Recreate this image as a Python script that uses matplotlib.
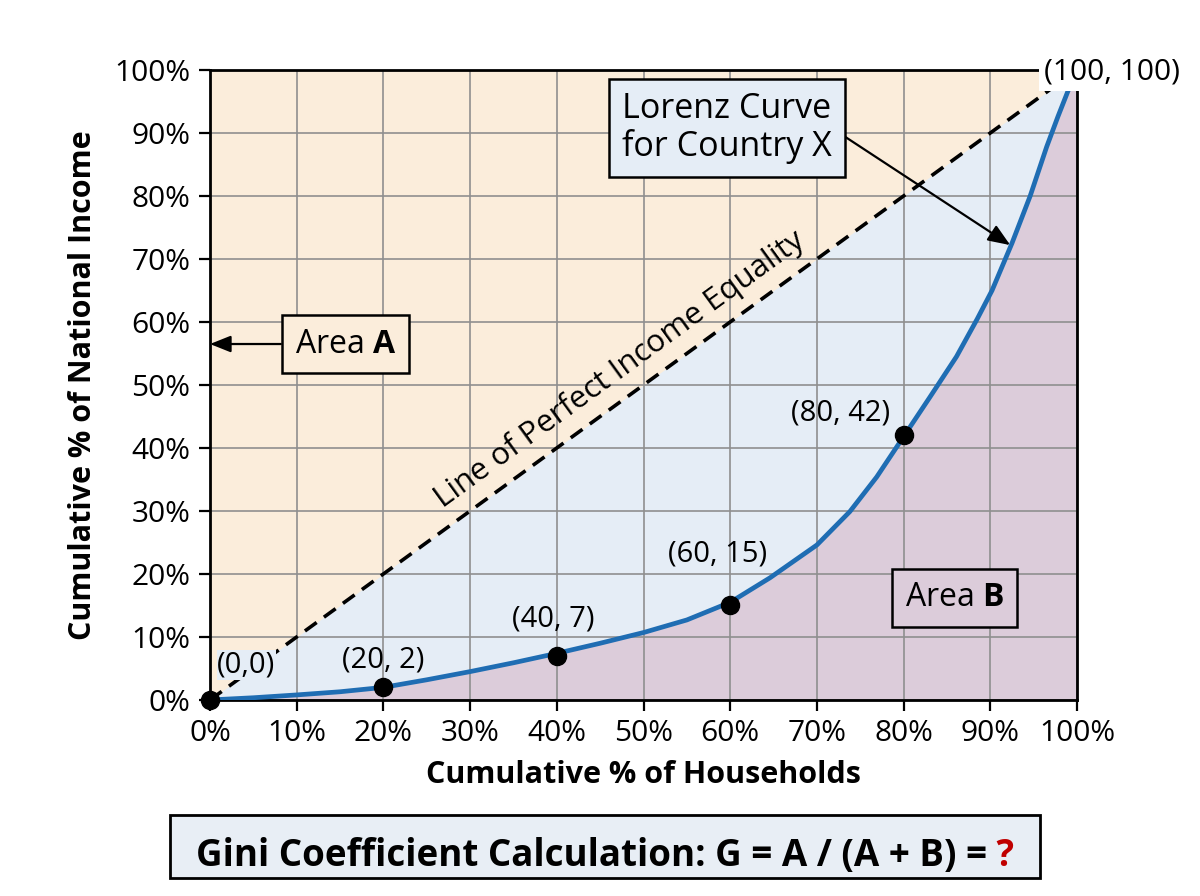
import numpy as np
import matplotlib
import matplotlib.pyplot as plt
from matplotlib.patches import Rectangle

matplotlib.use('Agg')

plt.rcParams['font.family'] = ['Open Sans', 'DejaVu Sans']
plt.rcParams['mathtext.fontset'] = 'custom'
plt.rcParams['mathtext.rm'] = 'Open Sans'
plt.rcParams['mathtext.bf'] = 'Open Sans:bold'

# data
lorenz_x = [0, 5, 10, 15, 20, 25, 30, 35, 40, 45, 50, 55, 60, 64.6, 70, 73.8, 76.9, 80,
            83, 86.1, 88.5, 90.2, 92.5, 94.6, 96.5, 97.8, 99.2, 100]
lorenz_y = [0, 0.35, 0.8, 1.3, 2, 3.2, 4.5, 5.9, 7.4, 9.0, 10.7, 12.7, 15.5, 19.4, 24.6, 29.9, 35.4, 41.8,
            48, 54.5, 60.5, 65, 72.5, 80, 87.8, 92.6, 97.5, 100]
point_x = [0, 20, 40, 60, 80]
point_y = [0, 2, 7, 15, 42]
point_labels = ['(0,0)', '(20, 2)', '(40, 7)', '(60, 15)', '(80, 42)']
label_x = [4.2, 20, 39.6, 58.6, 72.7]
label_y = [5.6, 6.4, 12.8, 23.2, 45.6]
ticks = list(range(0, 101, 10))
tick_labels = [str(t) + '%' for t in ticks]

peach = '#FBEDDB'
blue = '#E5EDF6'
mauve = '#DCCCDA'
line_blue = '#1F6DB3'

fig = plt.figure(figsize=(12, 8.96), dpi=100)
ax = fig.add_axes([0.175, 0.2188, 0.7225, 0.7031])
ax.set_facecolor(peach)

lx = np.array(lorenz_x)
ly = np.array(lorenz_y)
ax.fill_between(lx, ly, lx, color=blue, lw=0, zorder=0.5)
ax.fill_between(lx, 0, ly, color=mauve, lw=0, zorder=0.5)

ax.set_xlim(0, 100)
ax.set_ylim(0, 100)
ax.set_xticks(ticks)
ax.set_yticks(ticks)
ax.set_xticklabels(tick_labels, fontsize=21.5)
ax.set_yticklabels(tick_labels, fontsize=21.5)
ax.tick_params(direction='out', length=8, width=1.6, pad=6)
ax.grid(True, color='#8f8f8f', lw=1.2, zorder=0.8)
ax.set_axisbelow(True)
for s in ax.spines.values():
    s.set_linewidth(2)

ax.plot([0, 100], [0, 100], color='black', lw=2.6, ls=(0, (4, 2.5)), zorder=2)
ax.plot(lx, ly, color=line_blue, lw=3.4, zorder=3, solid_capstyle='round', solid_joinstyle='round')
ax.plot(point_x, point_y, 'o', color='black', ms=13, zorder=5, clip_on=False)

for t, x, y in zip(point_labels, label_x, label_y):
    kw = {}
    if t == '(0,0)':
        kw['bbox'] = dict(boxstyle='square,pad=0.02', fc=blue, ec='none')
    ax.text(x, y, t, fontsize=21, ha='center', va='center', zorder=6, **kw)

ax.text(104, 99.7, '(100, 100)', fontsize=21.5, ha='center', va='center', zorder=6,
        bbox=dict(boxstyle='square,pad=0.15', fc='white', ec='none'))

ax.text(47.3, 52.4, 'Line of Perfect Income Equality', fontsize=22.5, rotation=45,
        transform_rotates_text=True, rotation_mode='anchor', ha='center', va='center', zorder=6)

arrow_style = '-|>,head_length=0.55,head_width=0.22'

ax.annotate('Area $\\mathbf{A}$', xy=(0, 56.5), xytext=(15.6, 56.5), fontsize=23,
            ha='center', va='center', zorder=6,
            bbox=dict(boxstyle='square,pad=0.4', fc=peach, ec='black', lw=1.8),
            arrowprops=dict(arrowstyle=arrow_style, color='black',
                            lw=1.6, relpos=(0, 0.5), shrinkA=0, shrinkB=0))

ax.text(85.9, 16.2, 'Area $\\mathbf{B}$', fontsize=23, ha='center', va='center', zorder=6,
        bbox=dict(boxstyle='square,pad=0.4', fc=mauve, ec='black', lw=1.8))

ax.annotate('Lorenz Curve\nfor Country X', xy=(92.3, 72.2), xytext=(59.6, 90.8), fontsize=24.5,
            ha='center', va='center', zorder=6, linespacing=1.12,
            bbox=dict(boxstyle='square,pad=0.38', fc=blue, ec='black', lw=1.8),
            arrowprops=dict(arrowstyle=arrow_style, color='black',
                            lw=1.6, relpos=(1, 0.5), shrinkA=0, shrinkB=0))

ax.set_xlabel('Cumulative % of Households', fontsize=22, fontweight='bold', labelpad=8)
ax.set_ylabel('Cumulative % of National Income', fontsize=22, fontweight='bold', labelpad=12)

fig.patches.append(Rectangle((170 / 1200, 1 - 878 / 896), 870 / 1200, 63 / 896,
                             transform=fig.transFigure, fc='#E8EEF5', ec='black', lw=2, zorder=-1))
t1 = fig.text(196 / 1200, 1 - 866 / 896, 'Gini Coefficient Calculation: G = A / (A + B) =',
              fontsize=26.5, fontweight='bold', ha='left', va='baseline')
ax.annotate(' ?', xy=(1, 0), xycoords=t1, fontsize=26.5, fontweight='bold', color='#C00000',
            ha='left', va='bottom', annotation_clip=False)

fig.savefig('out.png', dpi=100)
